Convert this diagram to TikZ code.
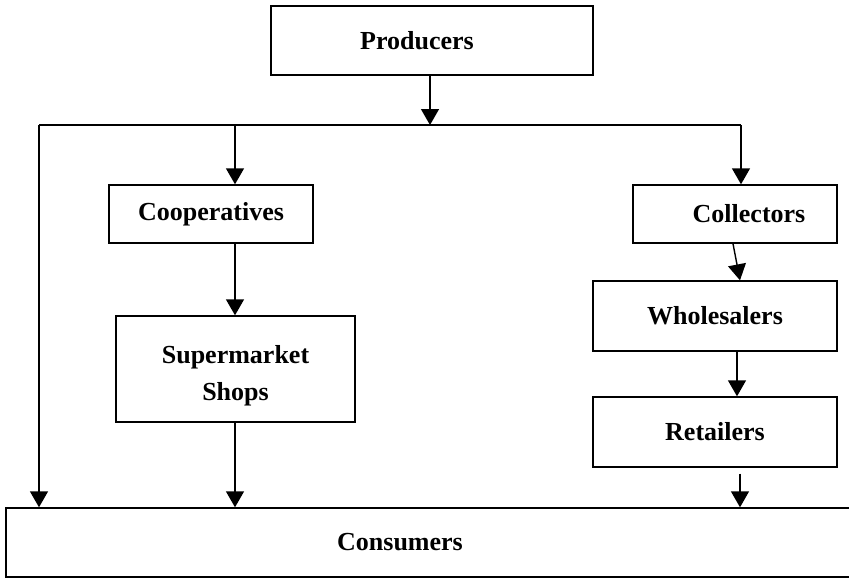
\documentclass[tikz,border=0pt]{standalone}
\usepackage{fontspec}
\setmainfont{Liberation Serif}
\usepackage{tikz}
\usetikzlibrary{arrows.meta, positioning}

\begin{document}
\begin{tikzpicture}[
  x=1pt, y=-1pt,
  font=\fontsize{26}{37}\selectfont\bfseries,
  line width=1.4pt,
  line cap=butt, line join=miter,
  box/.style={draw, rectangle, inner sep=0pt, align=center},
  arr/.style={-{Triangle[length=16pt, width=18pt]}},
]
\useasboundingbox (0,0) rectangle (849,579);

% boxes
\node[box, minimum width=322pt, minimum height=69pt] (prod) at (432,40.5) {Producers\hspace{30pt}};
\node[box, minimum width=204pt, minimum height=58pt] (coop) at (211,214) {Cooperatives};
\node[box, minimum width=204pt, minimum height=58pt] (coll) at (735,214) {\hspace{28pt}Collectors};
\node[box, minimum width=239pt, minimum height=106pt] (shops) at (235.5,369) {\rule{0pt}{32pt}Supermarket\\Shops};
\node[box, minimum width=244pt, minimum height=70pt] (whole) at (715,316) {Wholesalers};
\node[box, minimum width=244pt, minimum height=70pt] (retail) at (715,432) {Retailers};
\node[box, minimum width=845pt, minimum height=69pt] (cons) at (428.5,542.5) {Consumers\hspace{57pt}};

% distribution line
\coordinate (lft) at (39,125);
\coordinate (split) at (430,125);
\coordinate (mid) at (235,125);
\coordinate (rgt) at (741,125);
\draw (lft) -- (rgt);
\draw[arr] (split |- prod.south) -- (split);

% left branch
\draw[arr] (lft) -- (lft |- cons.north);
\draw[arr] (mid) -- (mid |- coop.north);
\draw[arr] (mid |- coop.south) -- (mid |- shops.north);
\draw[arr] (mid |- shops.south) -- (mid |- cons.north);

% right branch
\draw[arr] (rgt) -- (rgt |- coll.north);
\draw[arr] ([xshift=-2pt]coll.south) -- ([xshift=25pt]whole.north);
\draw[arr] ([xshift=22pt]whole.south) -- ([xshift=22pt]retail.north);
\draw[arr, shorten <=6pt] ([xshift=25pt]retail.south) -- ([xshift=25pt]retail.south |- cons.north);
\end{tikzpicture}
\end{document}
